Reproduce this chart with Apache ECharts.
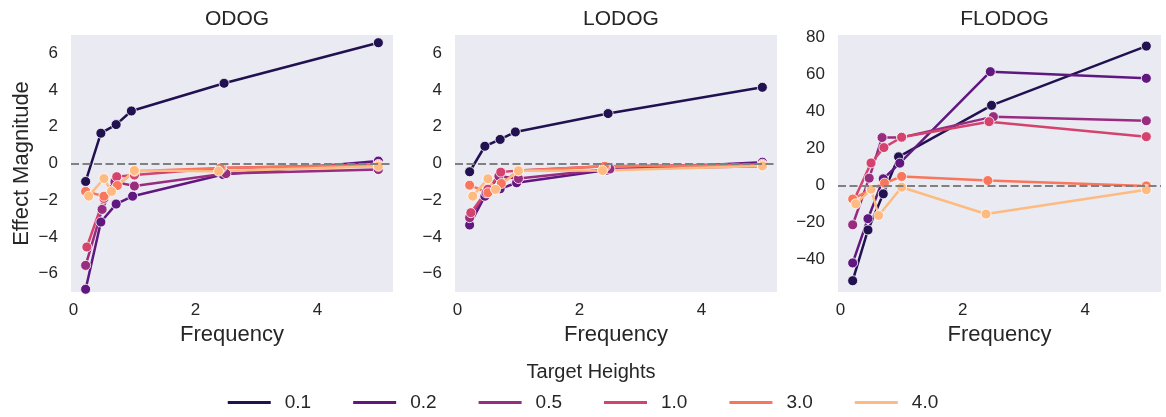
<!DOCTYPE html>
<html>
<head>
<meta charset="utf-8">
<script src="https://cdn.jsdelivr.net/npm/echarts@6/dist/echarts.min.js"></script>
<style>
  html, body { margin: 0; background: #fff; }
  #chart { width: 1166px; height: 417px; }
</style>
</head>
<body>
<div id="chart"></div>
<script>
// target heights (legend) and palette (seaborn magma, 6 colours)
var heights = ['0.1', '0.2', '0.5', '1.0', '3.0', '4.0']
var colors = ['#221150', '#5f187f', '#982d80', '#d3436e', '#f8765c', '#febb81']

// frequency of each point, one row per target height
var freqs = [
  [0.2, 0.45, 0.7, 0.95, 2.47, 5.0],
  [0.2, 0.45, 0.7, 0.97, 2.45, 5.0],
  [0.2, 0.47, 0.68, 1.0, 2.5, 5.0],
  [0.22, 0.5, 0.71, 1.0, 2.43, 5.0],
  [0.2, 0.5, 0.72, 1.0, 2.41, 5.0],
  [0.25, 0.5, 0.625, 1.0, 2.38, 5.0]
]

// effect magnitude per model, one row per target height
var odogVals = [
  [-0.98, 1.65, 2.12, 2.86, 4.37, 6.58],
  [-6.85, -3.19, -2.21, -1.78, -0.6, 0.13],
  [-5.55, -2.5, -1.0, -1.23, -0.55, -0.33],
  [-4.55, -1.9, -0.72, -0.63, -0.24, -0.05],
  [-1.52, -1.78, -1.2, -0.42, -0.24, -0.1],
  [-1.78, -0.82, -1.52, -0.38, -0.42, -0.15]
]
var lodogVals = [
  [-0.45, 0.94, 1.31, 1.72, 2.72, 4.15],
  [-3.35, -1.78, -1.38, -1.05, -0.36, 0.07],
  [-2.95, -1.6, -0.69, -0.82, -0.3, -0.15],
  [-2.68, -1.4, -0.47, -0.38, -0.15, -0.04],
  [-1.18, -1.59, -1.09, -0.4, -0.15, -0.1],
  [-1.78, -0.83, -1.41, -0.4, -0.38, -0.13]
]
var flodogVals = [
  [-51.4, -24.0, -4.5, 15.5, 43.3, 75.3],
  [-41.8, -17.9, 3.6, 12.1, 61.5, 57.9],
  [-21.2, 4.0, 25.9, 26.0, 37.2, 35.0],
  [-8.0, 12.2, 20.5, 26.1, 34.5, 26.4],
  [-7.3, -2.0, 1.3, 4.9, 2.7, -0.2],
  [-9.9, -2.0, -16.2, -0.9, -15.4, -2.3]
]

var titles = ['ODOG', 'LODOG', 'FLODOG']
var xTicks = [0, 2, 4]
var yTicksSmall = [-6, -4, -2, 0, 2, 4, 6]
var yTicksBig = [-40, -20, 0, 20, 40, 60, 80]

var font = 'Liberation Sans, Arial, sans-serif'
var textColor = '#262626'
var grids = [
  { left: 71, top: 35, width: 322, height: 257 },
  { left: 455, top: 35, width: 322, height: 257 },
  { left: 838, top: 35, width: 323, height: 257 }
]

function makeSeries(vals, panel) {
  return heights.map(function(h, i) {
    var s = {
      name: h,
      type: 'line',
      xAxisIndex: panel,
      yAxisIndex: panel,
      symbol: 'circle',
      symbolSize: 10,
      showSymbol: true,
      lineStyle: { width: 2.5, color: colors[i] },
      itemStyle: { color: colors[i], borderColor: '#fff', borderWidth: 0.8 },
      data: freqs[i].map(function(f, j) { return [f, vals[i][j]] })
    }
    if (i === 0) {
      s.markLine = {
        silent: true,
        symbol: 'none',
        label: { show: false },
        lineStyle: { color: '#808080', type: [8, 3.5], width: 2 },
        data: [{ yAxis: 0 }]
      }
    }
    return s
  })
}

function xAxis(i) {
  return {
    type: 'value',
    gridIndex: i,
    min: -0.04,
    max: 5.24,
    name: 'Frequency',
    nameLocation: 'middle',
    nameGap: 29,
    nameTextStyle: { fontSize: 22, color: textColor, fontFamily: font },
    axisLine: { show: false },
    axisTick: { show: false },
    splitLine: { show: false },
    axisLabel: { customValues: xTicks, fontSize: 17, color: textColor, fontFamily: font, margin: 10 }
  }
}

function yAxis(i) {
  var big = i === 2
  return {
    type: 'value',
    gridIndex: i,
    min: big ? -57.5 : -7,
    max: big ? 81.3 : 7,
    name: i === 0 ? 'Effect Magnitude' : '',
    nameLocation: 'middle',
    nameGap: 38,
    nameTextStyle: { fontSize: 22, color: textColor, fontFamily: font },
    axisLine: { show: false },
    axisTick: { show: false },
    splitLine: { show: false },
    axisLabel: {
      customValues: big ? yTicksBig : yTicksSmall,
      fontSize: 17, color: textColor, fontFamily: font, margin: 13,
      formatter: function(v) { return v < 0 ? '\u2212' + Math.abs(v) : String(v) }
    }
  }
}

var chart = echarts.init(document.getElementById('chart'))
chart.setOption({
  backgroundColor: '#fff',
  animation: false,
  color: colors,
  title: titles.map(function(t, i) {
    return {
      text: t,
      left: grids[i].left + grids[i].width / 2,
      top: 4,
      textAlign: 'center',
      textStyle: { fontSize: 21, fontWeight: 'normal', color: textColor, fontFamily: font }
    }
  }).concat([{
    text: 'Target Heights',
    left: 586,
    top: 357,
    textAlign: 'center',
    textStyle: { fontSize: 20, fontWeight: 'normal', color: textColor, fontFamily: font }
  }]),
  legend: {
    data: heights,
    left: 'center',
    top: 388,
    icon: 'rect',
    itemWidth: 43,
    itemHeight: 3,
    itemGap: 42,
    itemStyle: { borderWidth: 0 },
    textStyle: { fontSize: 19, color: textColor, fontFamily: font, padding: [0, 0, 0, 9] }
  },
  grid: grids.map(function(g) {
    return { left: g.left, top: g.top, width: g.width, height: g.height, backgroundColor: '#eaeaf2', show: true, borderWidth: 0 }
  }),
  xAxis: [xAxis(0), xAxis(1), xAxis(2)],
  yAxis: [yAxis(0), yAxis(1), yAxis(2)],
  series: makeSeries(odogVals, 0).concat(makeSeries(lodogVals, 1), makeSeries(flodogVals, 2))
})
</script>
</body>
</html>
